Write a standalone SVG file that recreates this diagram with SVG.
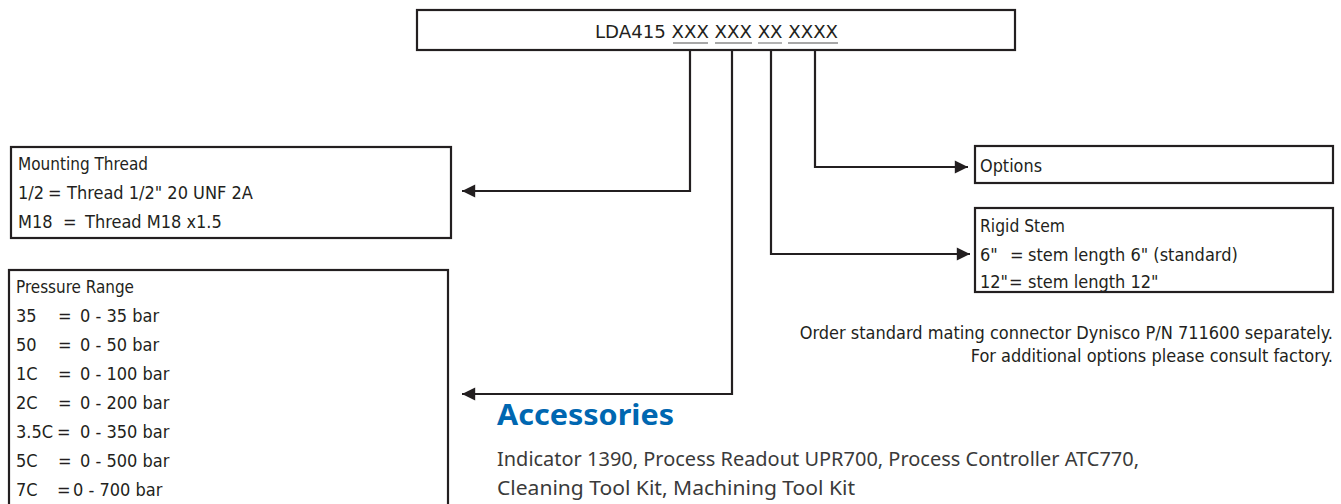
<svg xmlns="http://www.w3.org/2000/svg" width="1341" height="504" viewBox="0 0 1341 504">
<defs>
<style>
.box{fill:#fff;stroke:#231f20;stroke-width:2.2}
.t{font-family:"Liberation Sans Narrow","DejaVu Sans Condensed","Liberation Sans",sans-serif;font-size:18px;fill:#231f20}
.u{stroke:#8a8a8a;stroke-width:1.3}
.c{fill:none;stroke:#231f20;stroke-width:2.2}
.acc{font-family:"Noto Sans","Liberation Sans",sans-serif;font-weight:bold;font-size:28px;fill:#0067b1}
.at{font-family:"Noto Sans","Liberation Sans",sans-serif;font-size:20px;fill:#3a3a3a}
</style>
<marker id="ar" viewBox="0 0 10 10" refX="10" refY="5" markerWidth="7" markerHeight="6" markerUnits="strokeWidth" orient="auto">
<path d="M0,0 L10,5 L0,10 z" fill="#231f20"/>
</marker>
</defs>
<g id="code">
<rect class="box" x="417" y="10" width="598" height="40"/>
<text class="t" x="595" y="38" textLength="243" lengthAdjust="spacingAndGlyphs">LDA415 XXX XXX XX XXXX</text>
<line class="u" x1="673" y1="43" x2="708" y2="43"/>
<line class="u" x1="715" y1="43" x2="752" y2="43"/>
<line class="u" x1="758" y1="43" x2="782" y2="43"/>
<line class="u" x1="788" y1="43" x2="838" y2="43"/>
</g>
<g id="connectors">
<polyline class="c" points="690,50 690,191 462,191" marker-end="url(#ar)"/>
<polyline class="c" points="732,50 732,394 462,394" marker-end="url(#ar)"/>
<polyline class="c" points="771,50 771,254 970,254" marker-end="url(#ar)"/>
<polyline class="c" points="815,50 815,167 968,167" marker-end="url(#ar)"/>
</g>
<g id="mounting">
<rect class="box" x="11" y="147" width="440" height="91"/>
<text class="t" x="18" y="170" textLength="130" lengthAdjust="spacingAndGlyphs">Mounting Thread</text>
<text class="t" y="199"><tspan x="18">1/2</tspan><tspan x="48">=</tspan><tspan x="67">Thread 1/2" 20 UNF 2A</tspan></text>
<text class="t" y="228"><tspan x="18">M18</tspan><tspan x="63">=</tspan><tspan x="85">Thread M18 x1.5</tspan></text>
</g>
<g id="pressure">
<rect class="box" x="9" y="270" width="439" height="250"/>
<text class="t" x="16" y="293" textLength="118" lengthAdjust="spacingAndGlyphs">Pressure Range</text>
<text class="t" y="322"><tspan x="16">35</tspan><tspan x="58">=</tspan><tspan x="80">0 - 35 bar</tspan></text>
<text class="t" y="351"><tspan x="16">50</tspan><tspan x="58">=</tspan><tspan x="80">0 - 50 bar</tspan></text>
<text class="t" y="380"><tspan x="16">1C</tspan><tspan x="58">=</tspan><tspan x="80">0 - 100 bar</tspan></text>
<text class="t" y="409"><tspan x="16">2C</tspan><tspan x="58">=</tspan><tspan x="80">0 - 200 bar</tspan></text>
<text class="t" y="438"><tspan x="16">3.5C</tspan><tspan x="57">=</tspan><tspan x="80">0 - 350 bar</tspan></text>
<text class="t" y="467"><tspan x="16">5C</tspan><tspan x="58">=</tspan><tspan x="80">0 - 500 bar</tspan></text>
<text class="t" y="496"><tspan x="16">7C</tspan><tspan x="57">=</tspan><tspan x="73">0 - 700 bar</tspan></text>
</g>
<g id="options">
<rect class="box" x="975" y="146" width="358" height="37"/>
<text class="t" x="980" y="172" textLength="62" lengthAdjust="spacingAndGlyphs">Options</text>
</g>
<g id="stem">
<rect class="box" x="975" y="208" width="358" height="84"/>
<text class="t" x="980" y="232" textLength="85" lengthAdjust="spacingAndGlyphs">Rigid Stem</text>
<text class="t" y="261"><tspan x="980">6"</tspan><tspan x="1010">=</tspan><tspan x="1028">stem length 6" (standard)</tspan></text>
<text class="t" y="288"><tspan x="980">12"</tspan><tspan x="1009">=</tspan><tspan x="1028">stem length 12"</tspan></text>
</g>
<g id="notes">
<text class="t" x="1333" y="339" text-anchor="end">Order standard mating connector Dynisco P/N 711600 separately.</text>
<text class="t" x="1333" y="362" text-anchor="end">For additional options please consult factory.</text>
</g>
<g id="accessories">
<text class="acc" x="497" y="425" textLength="177" lengthAdjust="spacingAndGlyphs">Accessories</text>
<text class="at" x="497" y="466" textLength="642" lengthAdjust="spacingAndGlyphs">Indicator 1390, Process Readout UPR700, Process Controller ATC770,</text>
<text class="at" x="497" y="495" textLength="358" lengthAdjust="spacingAndGlyphs">Cleaning Tool Kit, Machining Tool Kit</text>
</g>
</svg>
